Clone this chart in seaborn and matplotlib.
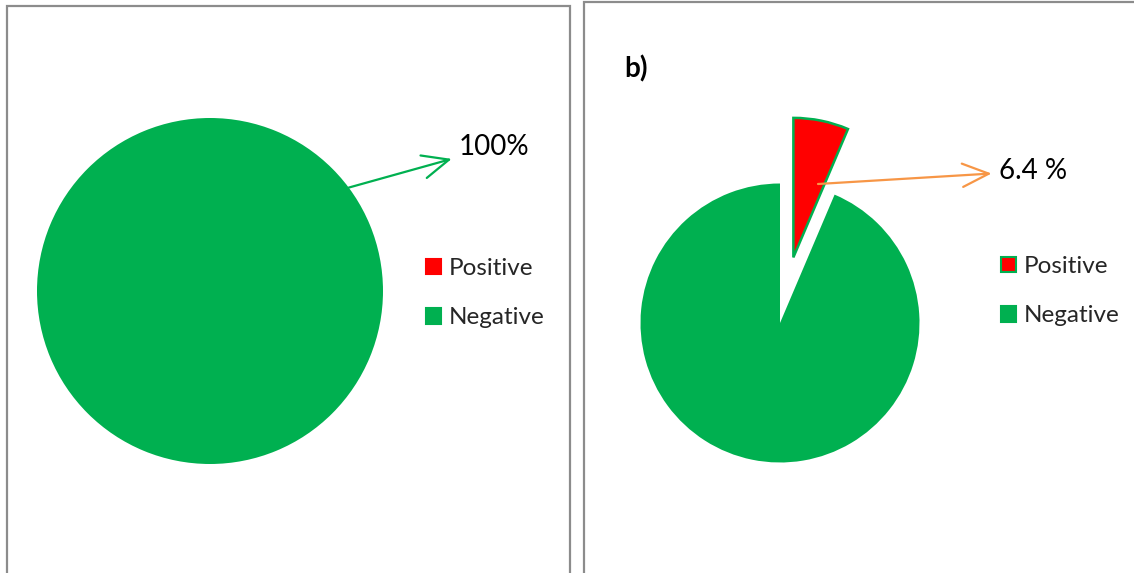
import numpy as np
import matplotlib
matplotlib.use("Agg")
import matplotlib.pyplot as plt
import matplotlib.patches as mpatches
import seaborn as sns

# Test results for the two groups (percent of samples)
categories = ["Positive", "Negative"]
group_a = [0.0, 100.0]
group_b = [6.4, 93.6]
label_a = "100%"
label_b = "6.4 %"
panel_b_title = "b)"

sns.set_theme(style="white")
plt.rcParams["font.family"] = ["Lato", "DejaVu Sans"]

colors = ["#FF0000", "#00B050"]
green = "#00B050"
orange = "#F79646"
frame_gray = "#8C8C8C"

W, H = 1134, 573
fig = plt.figure(figsize=(W / 100, H / 100), dpi=100)
ax = fig.add_axes([0, 0, 1, 1])


def py(y):
    """Convert a top-down pixel row to the axes' bottom-up y value."""
    return H - y


def reset_view():
    ax.set_xlim(0, W)
    ax.set_ylim(0, H)
    ax.set_aspect("equal")
    ax.axis("off")


reset_view()

# Panel frames
ax.add_patch(mpatches.Rectangle((7, py(600)), 563, 600 - 6, fill=False,
                                edgecolor=frame_gray, linewidth=1.6))
ax.add_patch(mpatches.Rectangle((584, py(600)), 600, 600 - 2, fill=False,
                                edgecolor=frame_gray, linewidth=1.6))

arrow_style = "<-,head_length=0.95,head_width=0.42"

# Panel a pie
r_a = 173
c_a = (210, py(291))
wedges_a, _ = ax.pie(group_a, colors=colors, startangle=90, counterclock=False,
                     radius=r_a, center=c_a, frame=True,
                     wedgeprops=dict(linewidth=0))
reset_view()

ang = np.deg2rad(36.7)
ax.annotate(label_a, xy=(c_a[0] + r_a * np.cos(ang), c_a[1] + r_a * np.sin(ang)),
            xytext=(459, py(147)), fontsize=20, color="black", va="center", ha="left",
            arrowprops=dict(arrowstyle=arrow_style, color=green, lw=1.6,
                            shrinkA=3, shrinkB=0))

# Panel b pie with the positive slice pulled out
r_b = 139.5
c_b = (780, py(323))
wedges_b, _ = ax.pie(group_b, colors=colors, startangle=90, counterclock=False,
                     radius=r_b, center=c_b, frame=True, explode=[0.48 * r_b, 0.0],
                     wedgeprops=dict(linewidth=0))
wedges_b[0].set_edgecolor(green)
wedges_b[0].set_linewidth(1.8)
reset_view()

ax.annotate(label_b, xy=(818, py(184)), xytext=(999, py(171)), fontsize=20,
            color="black", va="center", ha="left",
            arrowprops=dict(arrowstyle=arrow_style, color=orange, lw=1.6,
                            shrinkA=3, shrinkB=0))

ax.text(624, py(69), panel_b_title, fontsize=20, fontweight="bold",
        va="center", ha="left", color="black")

# Legends
def square(face, edge):
    return mpatches.Patch(facecolor=face, edgecolor=edge, linewidth=1.5)

leg_kw = dict(frameon=False, fontsize=17.5, handlelength=0.62, handleheight=0.62,
              handletextpad=0.32, labelspacing=1.17, loc="upper left", borderaxespad=0,
              borderpad=0, bbox_transform=ax.transData)
leg_a = ax.legend([square(colors[0], colors[0]), square(colors[1], colors[1])],
                  categories, bbox_to_anchor=(426, py(258)), **leg_kw)
ax.add_artist(leg_a)
leg_b = ax.legend([square(colors[0], green), square(colors[1], colors[1])],
                  categories, bbox_to_anchor=(1001, py(256)), **leg_kw)

fig.savefig("out.png", dpi=100)
